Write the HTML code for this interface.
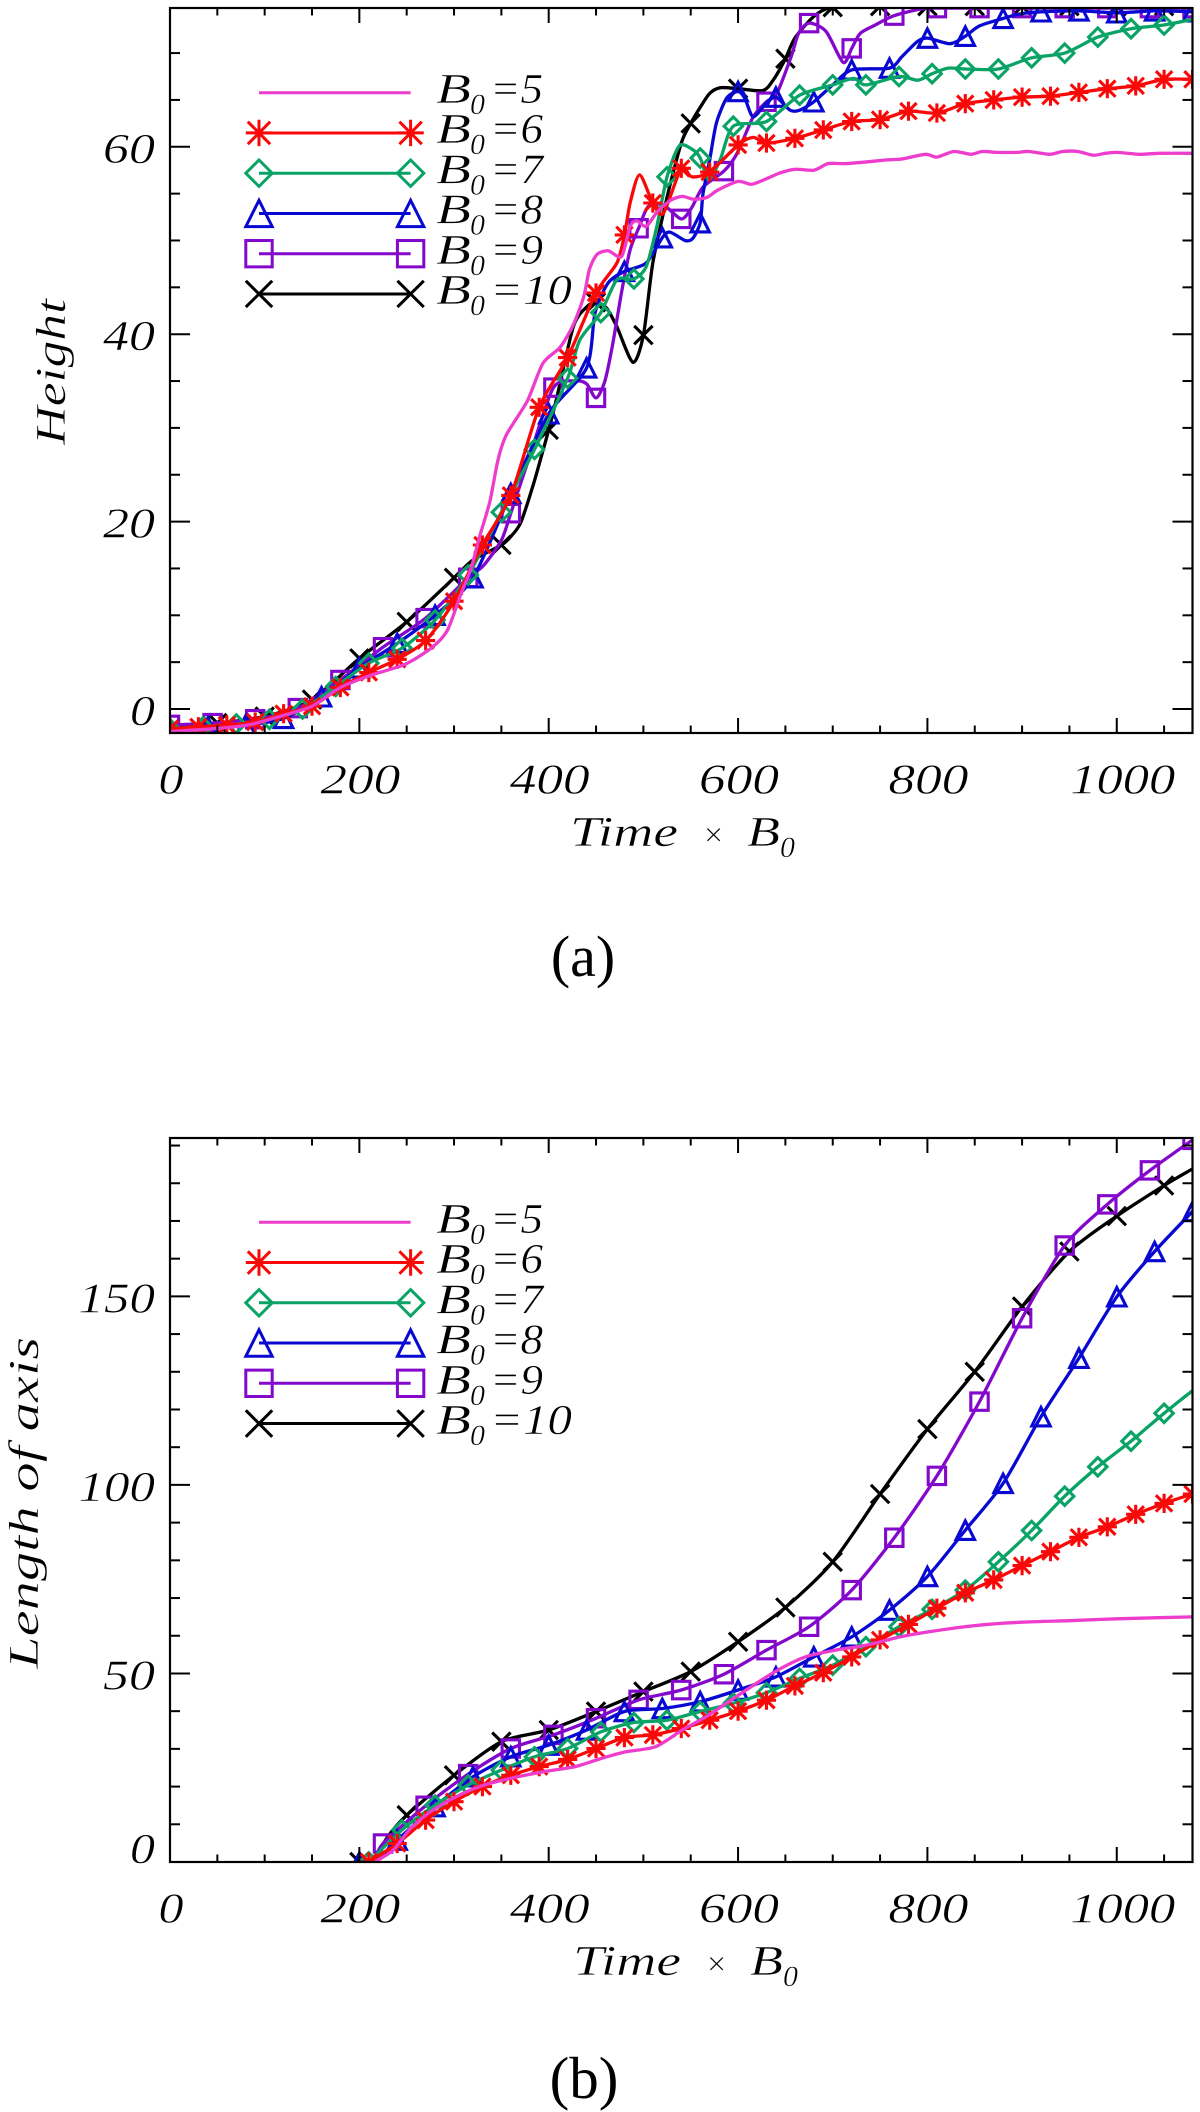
<!DOCTYPE html>
<html lang="en">
<head>
<meta charset="utf-8">
<title>Height and axis length versus Time × B0</title>
<style>
html,body{margin:0;padding:0;background:#fff;}
svg{display:block;}
text{font-family:"Liberation Serif",serif;fill:#000;}
.it{font-style:italic;font-size:42px;stroke:#fff;stroke-width:0.45px;}
.sub{font-size:30px;}
</style>
</head>
<body>
<svg id="figure" xmlns="http://www.w3.org/2000/svg" width="1200" height="2112" viewBox="0 0 1200 2112">
<rect x="0" y="0" width="1200" height="2112" fill="#fff"/>
<defs>
<clipPath id="clipA"><rect x="170" y="8" width="1022.5" height="725"/></clipPath>
<clipPath id="clipB"><rect x="170" y="1138" width="1022.5" height="724"/></clipPath>
</defs>
<g id="panelA"></g>
<g id="panelB"></g>

<g>
<text class="it"><tspan x="436" y="103" textLength="35" lengthAdjust="spacingAndGlyphs">B</tspan><tspan class="sub" x="470" dy="11">0</tspan><tspan x="490" dy="-11" textLength="53" lengthAdjust="spacingAndGlyphs">=5</tspan></text>
<text class="it"><tspan x="436" y="143.2" textLength="35" lengthAdjust="spacingAndGlyphs">B</tspan><tspan class="sub" x="470" dy="11">0</tspan><tspan x="490" dy="-11" textLength="53" lengthAdjust="spacingAndGlyphs">=6</tspan></text>
<text class="it"><tspan x="436" y="183.5" textLength="35" lengthAdjust="spacingAndGlyphs">B</tspan><tspan class="sub" x="470" dy="11">0</tspan><tspan x="490" dy="-11" textLength="53" lengthAdjust="spacingAndGlyphs">=7</tspan></text>
<text class="it"><tspan x="436" y="223.7" textLength="35" lengthAdjust="spacingAndGlyphs">B</tspan><tspan class="sub" x="470" dy="11">0</tspan><tspan x="490" dy="-11" textLength="53" lengthAdjust="spacingAndGlyphs">=8</tspan></text>
<text class="it"><tspan x="436" y="264" textLength="35" lengthAdjust="spacingAndGlyphs">B</tspan><tspan class="sub" x="470" dy="11">0</tspan><tspan x="490" dy="-11" textLength="53" lengthAdjust="spacingAndGlyphs">=9</tspan></text>
<text class="it"><tspan x="436" y="304.2" textLength="35" lengthAdjust="spacingAndGlyphs">B</tspan><tspan class="sub" x="470" dy="11">0</tspan><tspan x="490" dy="-11" textLength="82" lengthAdjust="spacingAndGlyphs">=10</tspan></text>
</g>
<g>
<text class="it"><tspan x="436" y="1233" textLength="35" lengthAdjust="spacingAndGlyphs">B</tspan><tspan class="sub" x="470" dy="11">0</tspan><tspan x="490" dy="-11" textLength="53" lengthAdjust="spacingAndGlyphs">=5</tspan></text>
<text class="it"><tspan x="436" y="1273.2" textLength="35" lengthAdjust="spacingAndGlyphs">B</tspan><tspan class="sub" x="470" dy="11">0</tspan><tspan x="490" dy="-11" textLength="53" lengthAdjust="spacingAndGlyphs">=6</tspan></text>
<text class="it"><tspan x="436" y="1313.5" textLength="35" lengthAdjust="spacingAndGlyphs">B</tspan><tspan class="sub" x="470" dy="11">0</tspan><tspan x="490" dy="-11" textLength="53" lengthAdjust="spacingAndGlyphs">=7</tspan></text>
<text class="it"><tspan x="436" y="1353.7" textLength="35" lengthAdjust="spacingAndGlyphs">B</tspan><tspan class="sub" x="470" dy="11">0</tspan><tspan x="490" dy="-11" textLength="53" lengthAdjust="spacingAndGlyphs">=8</tspan></text>
<text class="it"><tspan x="436" y="1394" textLength="35" lengthAdjust="spacingAndGlyphs">B</tspan><tspan class="sub" x="470" dy="11">0</tspan><tspan x="490" dy="-11" textLength="53" lengthAdjust="spacingAndGlyphs">=9</tspan></text>
<text class="it"><tspan x="436" y="1434.2" textLength="35" lengthAdjust="spacingAndGlyphs">B</tspan><tspan class="sub" x="470" dy="11">0</tspan><tspan x="490" dy="-11" textLength="82" lengthAdjust="spacingAndGlyphs">=10</tspan></text>
</g>

<text class="it"><tspan x="570" y="846" textLength="108" lengthAdjust="spacingAndGlyphs">Time</tspan><tspan x="704" font-size="34" font-style="normal">×</tspan><tspan x="747" textLength="33" lengthAdjust="spacingAndGlyphs">B</tspan><tspan class="sub" x="780" dy="11">0</tspan></text>
<text class="it"><tspan x="573" y="1975" textLength="108" lengthAdjust="spacingAndGlyphs">Time</tspan><tspan x="707" font-size="34" font-style="normal">×</tspan><tspan x="750" textLength="33" lengthAdjust="spacingAndGlyphs">B</tspan><tspan class="sub" x="783" dy="11">0</tspan></text>
<text class="it" transform="translate(65,372) rotate(-90)" text-anchor="middle" textLength="146" lengthAdjust="spacingAndGlyphs">Height</text>
<text class="it" transform="translate(38,1503) rotate(-90)" text-anchor="middle" textLength="332" lengthAdjust="spacingAndGlyphs">Length of axis</text>
<text x="583" y="976" font-size="58" text-anchor="middle">(a)</text>
<text x="584" y="2098" font-size="59" text-anchor="middle">(b)</text>
</svg>

<script>
// ---------- shared tick labels ----------
const timeTickLabels = [0, 200, 400, 600, 800, 1000];
const heightTickLabels = [0, 20, 40, 60];
const lengthTickLabels = [0, 50, 100, 150];

// ---------- panel (a): Height ----------
const heightTimesB5 = [0,47,83,119,150,180,212,249,277,293,307,318,327,338,346,354,364,378,394,412,426,437,443,451,463,477,486,493,503,515,529,541,553,567,579,600,614,628,644,660,680,695,713,737,757,773,798,810,828,846,858,874,895,907,929,943,959,975,988,1000,1024,1044,1080];
const heightB5 = [-2.4,-2.1,-1.7,-0.7,0.3,2.3,3.6,4.8,6.6,8.4,12.2,15,18.4,22.2,26.4,29,30.7,33,36.9,38.6,41,44,46.9,48.5,48.9,48.3,51.5,52.1,51.5,53.1,54.3,54.7,54.4,54.6,55.4,56.3,56,56.5,57.2,57.6,57.5,58.2,58.2,58.4,58.6,58.7,59.2,58.9,59.5,59.2,59.5,59.4,59.4,59.5,59.2,59.5,59.5,59.1,59.3,59.4,59.2,59.3,59.3];

const heightTimesB6 = [0,30,60,90,120,150,180,210,240,270,300,330,360,390,420,450,472,480,486,496,510,521,540,551,570,600,616,630,660,690,720,750,780,810,840,870,900,930,960,990,1020,1050,1080];
const heightB6 = [-2.1,-1.9,-1.7,-1.4,-0.5,0.3,2.3,3.9,5.3,7.3,11.5,17.5,22.8,32.2,37.5,44.4,47.6,50.6,54,57,54,52.9,57.7,56.8,57.3,60.2,61,60.4,60.9,61.8,62.7,62.9,63.8,63.6,64.6,65,65.3,65.4,65.8,66.2,66.5,67.2,67.2];

const heightTimesB7 = [0,35,70,105,140,175,210,245,280,315,350,385,420,433,455,472,490,503,514,525,538,552,560,569,581,595,630,665,700,722,735,770,790,805,822,840,875,910,945,980,1015,1050,1080];
const heightB7 = [-2.1,-1.9,-1.6,-1.1,0,2.4,4.9,6.5,9.5,14.3,21,27.7,35.3,39.4,42.3,45.8,45.9,47.2,51.4,56.8,60.1,59.7,58.8,56.5,58.6,62.2,62.7,65.5,66.6,67.3,66.6,67.5,67.1,67.8,68.4,68.3,68.3,69.5,70,71.7,72.6,73,73.6];

const heightTimesB8 = [0,40,80,120,160,200,240,280,320,360,400,440,449,463,480,503,520,528,544,552,560,563,570,577,588,600,607,616,630,640,655,665,680,700,720,760,773,789,800,824,840,855,880,899,920,960,1000,1040,1080];
const heightB8 = [-2.1,-1.9,-1.7,-1,1.3,4.4,7,10,14,23,31.5,36.4,42.3,45.5,46.7,47.6,50.3,50.9,50,50.2,51.9,55,58.6,62.5,65.2,65.9,65.2,63.2,64.7,65.3,63.9,63.9,64.8,66.6,68.2,68.4,69.6,71.2,71.6,71,71.8,72.9,73.7,74.2,74.4,74.5,74.3,74.5,74.4];

const heightTimesB9 = [0,45,90,135,180,225,270,315,331,350,360,380,405,429,440,450,459,467,477,486,495,505,521,540,551,563,585,599,616,630,641,656,664,675,693,711,720,729,745,765,797,810,855,900,945,990,1035,1080];
const heightB9 = [-1.7,-1.5,-1.1,0.1,3.1,6.6,9.7,14,15.3,18,20.9,27,34.3,35,34.7,33.2,34.9,38.6,44.5,49,51.3,53.6,53.8,52.3,53.5,55.7,57.4,59.3,63.2,64.8,65.7,69.6,72.1,73.2,72.3,69,70.5,72.1,73,74,74.8,74.8,74.8,74.8,74.8,74.8,74.8,74.8];

const heightTimesB10 = [0,50,100,150,200,250,300,320,350,359,370,383,394,400,408,426,440,450,461,472,489,500,510,525,540,550,560,570,581,600,626,637,650,660,680,700,750,800,850,900,950,1000,1050,1080];
const heightB10 = [-2.1,-1.5,-0.8,1,5.4,9.3,14,15.9,17.5,18.3,19.8,23.7,27.6,29.8,33,40.8,42.9,43.4,42.8,40.8,37,39.9,47.6,54.6,60.4,62.5,64.2,65.7,66.3,66.2,66,67.1,69.4,71.6,73.9,74.9,75,75,75,75,75,75,75,75];

// ---------- panel (b): Length of axis ----------
const lengthTimesB5 = [216,236,254,275,299,327,360,396,428,456,481,513,541,566,590,614,642,671,703,735,771,800,850,900,950,1000,1080];
const lengthB5 = [0,3.2,8.9,13.3,16.9,20,22.2,24,25.3,27.5,29.2,30.6,35,38.5,42.5,46.5,50.9,54.4,56.2,57.5,59.7,61,62.7,63.6,64,64.5,65];

const lengthTimesB6 = [210,240,270,300,330,360,390,420,450,480,510,540,570,600,630,660,690,720,750,780,810,840,870,900,930,960,990,1020,1050,1080];
const lengthB6 = [0,4.9,11.1,16,20,23,25.3,27.2,30.1,33,33.7,35.4,37.6,40,42.9,46.7,50.2,54.4,58.9,63,67.3,71.4,74.8,78.6,82.3,86.1,88.9,92.2,95.1,97.6];

const lengthTimesB7 = [210,245,280,315,350,385,420,455,490,525,560,595,630,665,700,735,770,805,840,875,910,945,980,1015,1050,1080];
const lengthB7 = [0,8.5,15.1,20.4,24.4,27.9,30.1,34.5,37,37.6,39.9,42.1,44.9,48.7,52.2,57.1,62.4,67,72.1,79.6,87.9,97,104.8,111.6,119,125];

const lengthTimesB8 = [200,216,240,280,320,360,400,440,480,520,560,600,640,680,720,760,800,840,880,920,960,1000,1040,1080];
const lengthB8 = [0,0,5.8,14.7,22.6,27.9,31,35,39.9,40.7,42.5,45.6,49.1,54.4,59.7,66.8,75.7,88,100.4,118.1,133.6,149.9,161.9,172.5];

const lengthTimesB9 = [216,225,270,315,360,405,450,495,540,585,630,675,720,765,810,855,900,945,990,1035,1080];
const lengthB9 = [0,4.9,14.9,23.3,30.1,33.7,38.1,43,45.6,49.8,56.2,62.4,72.1,86,102.4,122.1,144.2,163.5,174.4,183.4,191.5];

const lengthTimesB10 = [200,216,228,250,300,350,400,450,500,550,600,650,700,750,800,850,900,950,1000,1050,1080];
const lengthB10 = [0,0,6,12.4,23,31.9,35,39.9,45.2,50.5,58.4,67.5,79.6,97.6,114.8,130,147.3,161.9,171.3,179.4,183.8];

// ---------- helpers ----------
const NS = 'http://www.w3.org/2000/svg';
function svgEl(parent, tag, attrs) {
  const el = document.createElementNS(NS, tag);
  for (const k in attrs) el.setAttribute(k, attrs[k]);
  parent.appendChild(el);
  return el;
}
function linearScale(d0, d1, p0, p1) {
  return v => p0 + (v - d0) * (p1 - p0) / (d1 - d0);
}
function curvePath(pts) {
  const k = 0.13;
  let d = 'M' + pts[0][0].toFixed(1) + ',' + pts[0][1].toFixed(1);
  for (let i = 0; i < pts.length - 1; i++) {
    const p0 = pts[Math.max(i - 1, 0)], p1 = pts[i], p2 = pts[i + 1], p3 = pts[Math.min(i + 2, pts.length - 1)];
    d += 'C' + (p1[0] + (p2[0] - p0[0]) * k).toFixed(1) + ',' + (p1[1] + (p2[1] - p0[1]) * k).toFixed(1) + ' ' +
      (p2[0] - (p3[0] - p1[0]) * k).toFixed(1) + ',' + (p2[1] - (p3[1] - p1[1]) * k).toFixed(1) + ' ' +
      p2[0].toFixed(1) + ',' + p2[1].toFixed(1);
  }
  return d;
}
function markerPath(kind, x, y, r) {
  const f = v => v.toFixed(1);
  if (kind === 'asterisk') {
    const c = r * 0.85;
    return 'M' + f(x - r) + ',' + f(y) + 'H' + f(x + r) + 'M' + f(x) + ',' + f(y - r) + 'V' + f(y + r) +
      'M' + f(x - c) + ',' + f(y - c) + 'L' + f(x + c) + ',' + f(y + c) +
      'M' + f(x - c) + ',' + f(y + c) + 'L' + f(x + c) + ',' + f(y - c);
  }
  if (kind === 'diamond') {
    return 'M' + f(x - r) + ',' + f(y) + 'L' + f(x) + ',' + f(y - r) + 'L' + f(x + r) + ',' + f(y) + 'L' + f(x) + ',' + f(y + r) + 'Z';
  }
  if (kind === 'triangle') {
    return 'M' + f(x) + ',' + f(y - r) + 'L' + f(x + r) + ',' + f(y + r) + 'L' + f(x - r) + ',' + f(y + r) + 'Z';
  }
  if (kind === 'square') {
    return 'M' + f(x - r) + ',' + f(y - r) + 'H' + f(x + r) + 'V' + f(y + r) + 'H' + f(x - r) + 'Z';
  }
  if (kind === 'cross') {
    return 'M' + f(x - r) + ',' + f(y - r) + 'L' + f(x + r) + ',' + f(y + r) + 'M' + f(x - r) + ',' + f(y + r) + 'L' + f(x + r) + ',' + f(y - r);
  }
  return '';
}

const seriesStyles = [
  { b0: 10, color: '#000000', kind: 'cross' },
  { b0: 9, color: '#8308cc', kind: 'square' },
  { b0: 8, color: '#0808d2', kind: 'triangle' },
  { b0: 7, color: '#0aa366', kind: 'diamond' },
  { b0: 6, color: '#fa0808', kind: 'asterisk' },
  { b0: 5, color: '#ee3ccc', kind: null }
];
const legendOrder = [5, 6, 7, 8, 9, 10];

function drawPanel(panel) {
  const root = panel.root;
  const sx = linearScale(0, 1080, 170, 1192.5);
  const sy = linearScale(panel.ymin, panel.ymax, panel.bottom, panel.top);

  // series
  const clipped = svgEl(root, 'g', { 'clip-path': 'url(#' + panel.clip + ')' });
  
  
  seriesStyles.forEach(style => {
    const times = panel.times[style.b0];
    const vals = panel.values[style.b0];
    const g = svgEl(clipped, 'g', {});
    
    
    const pts = times.map((t, i) => [sx(t), sy(vals[i])]);
    const line = svgEl(g, 'path', { d: curvePath(pts), fill: 'none', stroke: style.color, 'stroke-width': 3.3, 'stroke-linejoin': 'round' });
    
    
    if (style.kind) {
      const step = 5 * style.b0;
      times.forEach((t, i) => {
        if (t % step !== 0) return;
        const r = style.kind === 'square' ? 8.7 : style.kind === 'asterisk' ? 9.6 : 9.2;
        const m = svgEl(g, 'path', { d: markerPath(style.kind, sx(t), sy(vals[i]), r), fill: 'none', stroke: style.color, 'stroke-width': 3.1 });
        
        
      });
    }
  });

  // frame
  const frame = svgEl(root, 'rect', { x: 170, y: panel.top, width: 1022.5, height: panel.bottom - panel.top, fill: 'none', stroke: '#000', 'stroke-width': 2.2 });
  
  

  // x ticks
  for (let t = 0; t <= 1080; t += 50) {
    const major = t % 200 === 0;
    const len = major ? 15 : 7.5;
    const x = sx(t);
    const tb = svgEl(root, 'line', { x1: x, x2: x, y1: panel.bottom, y2: panel.bottom - len, stroke: '#000', 'stroke-width': 2 });
    
    
    const tt = svgEl(root, 'line', { x1: x, x2: x, y1: panel.top, y2: panel.top + len, stroke: '#000', 'stroke-width': 2 });
    
    
  }
  timeTickLabels.forEach(t => {
    const s = String(t);
    const w = { 1: 25, 3: 80, 4: 105 }[s.length];
    const offset = s.length === 4 ? 6 : 1;
    const lbl = svgEl(root, 'text', { x: sx(t) + offset, y: panel.bottom + 60.5, 'text-anchor': 'middle', 'class': 'it', textLength: w, lengthAdjust: 'spacingAndGlyphs' });
    lbl.textContent = s;
    
    
  });

  // y ticks
  for (let v = Math.ceil(panel.ymin / panel.minor) * panel.minor; v <= panel.ymax; v += panel.minor) {
    const major = v % panel.major === 0;
    const len = major ? 20 : 10;
    const y = sy(v);
    const tl = svgEl(root, 'line', { x1: 170, x2: 170 + len, y1: y, y2: y, stroke: '#000', 'stroke-width': 2 });
    
    
    const tr = svgEl(root, 'line', { x1: 1192.5, x2: 1192.5 - len, y1: y, y2: y, stroke: '#000', 'stroke-width': 2 });
    
    
  }
  panel.ticks.forEach(v => {
    const s = String(v);
    const w = { 1: 25, 2: 52, 3: 76.5 }[s.length];
    const atBottom = sy(v) > panel.bottom - 2;
    const lbl = svgEl(root, 'text', { x: 155, y: sy(v) + (atBottom ? 1 : 16), 'text-anchor': 'end', 'class': 'it', textLength: w, lengthAdjust: 'spacingAndGlyphs' });
    lbl.textContent = s;
    
    
  });

  // legend samples
  legendOrder.forEach((b0, i) => {
    const style = seriesStyles.find(s => s.b0 === b0);
    const y = panel.legendTop + i * 40.25;
    const g = svgEl(root, 'g', {});
    
    
    const l = svgEl(g, 'line', { x1: 259, x2: 410.6, y1: y, y2: y, stroke: style.color, 'stroke-width': 3 });
    
    
    if (style.kind) {
      [259, 410.6].forEach(x => {
        const m = svgEl(g, 'path', { d: markerPath(style.kind, x, y, 13.2), fill: 'none', stroke: style.color, 'stroke-width': 3 });
        
        
      });
    }
  });
}

drawPanel({
  root: document.getElementById('panelA'),
  clip: 'clipA', top: 8, bottom: 733, ymin: -2.56, ymax: 74.81, minor: 5, major: 20,
  ticks: heightTickLabels, legendTop: 92.7,
  times: { 5: heightTimesB5, 6: heightTimesB6, 7: heightTimesB7, 8: heightTimesB8, 9: heightTimesB9, 10: heightTimesB10 },
  values: { 5: heightB5, 6: heightB6, 7: heightB7, 8: heightB8, 9: heightB9, 10: heightB10 }
});
drawPanel({
  root: document.getElementById('panelB'),
  clip: 'clipB', top: 1138, bottom: 1862, ymin: 0, ymax: 192, minor: 10, major: 50,
  ticks: lengthTickLabels, legendTop: 1222.3,
  times: { 5: lengthTimesB5, 6: lengthTimesB6, 7: lengthTimesB7, 8: lengthTimesB8, 9: lengthTimesB9, 10: lengthTimesB10 },
  values: { 5: lengthB5, 6: lengthB6, 7: lengthB7, 8: lengthB8, 9: lengthB9, 10: lengthB10 }
});
</script>
</body>
</html>
